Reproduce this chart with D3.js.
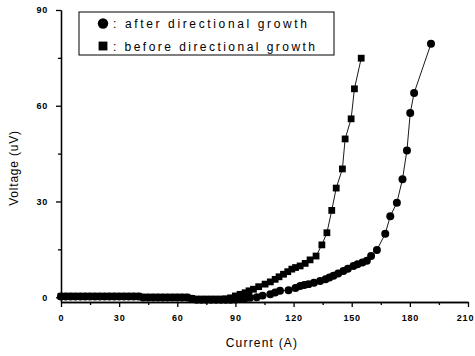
<!DOCTYPE html>
<html>
<head>
<meta charset="utf-8">
<script src="https://cdn.jsdelivr.net/npm/d3@7"></script>
<style>
  body { margin: 0; background: #fff; }
  svg { display: block; font-family: "Liberation Sans", Arial, sans-serif; }
  .axis path, .axis line { stroke: #000; stroke-width: 1.3; }
  .axis text { font-size: 9px; font-weight: bold; fill: #000; letter-spacing: 0.8px; }
</style>
</head>
<body>
<div class="content"></div>
<script>
var beforeCurrent = [0, 2.5, 5, 7.5, 10, 12.5, 15, 17.5, 20, 22.5, 25, 27.5, 30, 32.5, 35, 37.5, 40,
    42.5, 45, 47.5, 50, 52.5, 55, 57.5, 60, 62.5, 65, 67.5, 70, 72.5, 75, 77.5, 80, 82.5, 85, 87.5,
    90, 92.4, 95, 97, 99.3, 102, 105.3, 108, 110.5, 112.5, 114.8, 117, 119.1, 121, 123.4, 126, 128.5,
    131.6, 134.6, 137.2, 139.7, 142, 145.2, 146.6, 149.7, 151.4, 154.9];
var beforeVoltage = [0.3, 0.3, 0.3, 0.3, 0.3, 0.3, 0.3, 0.3, 0.3, 0.3, 0.3, 0.3, 0.3, 0.3, 0.3, 0.3, 0.3,
    0.0, 0.0, 0.0, 0.0, 0.0, 0.0, 0.0, 0.0, 0.0, 0.0, -0.4, -0.6, -0.6, -0.6, -0.6, -0.6, -0.6, -0.5, -0.2,
    0.4, 0.9, 1.4, 2.0, 2.5, 3.3, 4.1, 4.8, 5.6, 6.4, 7.2, 8.0, 8.8, 9.3, 9.8, 10.6, 11.7,
    12.9, 16.4, 20.2, 27.2, 34.2, 40.2, 49.6, 55.9, 65.3, 74.9];

var afterCurrent = [0, 2.5, 5, 7.5, 10, 12.5, 15, 17.5, 20, 22.5, 25, 27.5, 30, 32.5, 35, 37.5, 40,
    42.5, 45, 47.5, 50, 52.5, 55, 57.5, 60, 62.5, 65, 67.5, 70, 72.5, 75, 77.5, 80, 82.5, 85, 87.5,
    90, 92.4, 95, 97.5, 101, 104, 108, 110.5, 113, 117.4, 121, 123.4, 125.5, 127.7, 130.5, 133.7,
    136.5, 138.5, 140.6, 143, 145.7, 148, 150.9, 153, 155.5, 157.8, 160, 163, 167.3, 169.9, 173.3,
    176.2, 178.5, 180.2, 182.2, 190.9];
var afterVoltage = [0.2, 0.2, 0.2, 0.2, 0.2, 0.2, 0.2, 0.2, 0.2, 0.2, 0.2, 0.2, 0.2, 0.2, 0.2, 0.2, 0.2,
    -0.1, -0.1, -0.1, -0.1, -0.1, -0.1, -0.1, -0.1, -0.1, -0.1, -0.5, -0.8, -0.8, -0.8, -0.8, -0.8, -0.8, -0.8, -0.8,
    -0.7, -0.5, -0.3, -0.2, 0.0, 0.5, 0.9, 1.5, 2.0, 2.2, 2.9, 3.5, 3.8, 4.1, 4.5, 5.1,
    5.6, 6.2, 6.7, 7.4, 8.2, 8.9, 9.8, 10.3, 10.9, 11.4, 12.9, 14.8, 19.9, 25.4, 29.6,
    37.0, 46.0, 57.7, 64.0, 79.4];

var xMajor = [0, 30, 60, 90, 120, 150, 180, 210];
var xMinor = [15, 45, 75, 105, 135, 165, 195];
var yMajor = [0, 30, 60, 90];
var yMinor = [15, 45, 75];
var legendLabels = [": after directional growth", ": before directional growth"];

var svg = d3.select('.content').append('svg')
    .attr('width', 475)
    .attr('height', 356);

var x = d3.scaleLinear().domain([0, 210]).range([61, 468]);
var y = d3.scaleLinear().domain([-1.5, 90]).range([302, 10]);

function drawAxes() {
    svg.append('g')
        .attr('class', 'axis')
        .attr('transform', 'translate(0,302)')
        .call(d3.axisBottom(x).tickValues(xMinor).tickSize(3).tickSizeOuter(0).tickFormat(''));
    var xAxis = svg.append('g')
        .attr('class', 'axis')
        .attr('transform', 'translate(0,302)')
        .call(d3.axisBottom(x).tickValues(xMajor).tickSize(5).tickSizeOuter(0).tickPadding(8));
    // last label sits right on the page edge
    xAxis.selectAll('.tick text')
        .filter(function(d) { return d === 210; })
        .attr('dx', -3);

    svg.append('g')
        .attr('class', 'axis')
        .attr('transform', 'translate(61,0)')
        .call(d3.axisLeft(y).tickValues(yMinor).tickSize(3).tickSizeOuter(0).tickFormat(''));
    svg.append('g')
        .attr('class', 'axis')
        .attr('transform', 'translate(61,0)')
        .call(d3.axisLeft(y).tickValues(yMajor).tickSize(5).tickSizeOuter(0).tickPadding(8));

    svg.append('text')
        .attr('x', 262)
        .attr('y', 347)
        .attr('text-anchor', 'middle')
        .attr('font-size', 12)
        .attr('letter-spacing', 1.2)
        .text('Current (A)');

    svg.append('text')
        .attr('transform', 'translate(18,168) rotate(-90)')
        .attr('text-anchor', 'middle')
        .attr('font-size', 12)
        .attr('letter-spacing', 0.8)
        .text('Voltage (uV)');
}

function drawSeries(xs, ys, shape) {
    var pts = xs.map(function(d, i) { return [x(d), y(ys[i])]; });
    svg.append('path')
        .attr('d', d3.line()(pts))
        .attr('fill', 'none')
        .attr('stroke', '#000')
        .attr('stroke-width', 0.9);
    var sym = d3.symbol().type(shape).size(shape === d3.symbolCircle ? 50 : 46);
    svg.selectAll(null)
        .data(pts)
        .enter()
        .append('path')
        .attr('d', sym)
        .attr('transform', function(d) { return 'translate(' + d[0] + ',' + d[1] + ')'; })
        .attr('fill', '#000');
}

function drawLegend() {
    svg.append('rect')
        .attr('x', 79)
        .attr('y', 12)
        .attr('width', 255)
        .attr('height', 43)
        .attr('fill', '#fff')
        .attr('stroke', '#000')
        .attr('stroke-width', 1);
    var shapes = [d3.symbolCircle, d3.symbolSquare];
    legendLabels.forEach(function(label, i) {
        var cy = 23.5 + i * 22.5;
        svg.append('path')
            .attr('d', d3.symbol().type(shapes[i]).size(i === 0 ? 85 : 78))
            .attr('transform', 'translate(103,' + cy + ')')
            .attr('fill', '#000');
        svg.append('text')
            .attr('x', 113)
            .attr('y', cy + 4.5)
            .attr('font-size', 12)
            .attr('textLength', i === 0 ? 194 : 202)
            .attr('lengthAdjust', 'spacing')
            .text(label);
    });
}

drawAxes();
drawSeries(beforeCurrent, beforeVoltage, d3.symbolSquare);
drawSeries(afterCurrent, afterVoltage, d3.symbolCircle);
drawLegend();
</script>
</body>
</html>
